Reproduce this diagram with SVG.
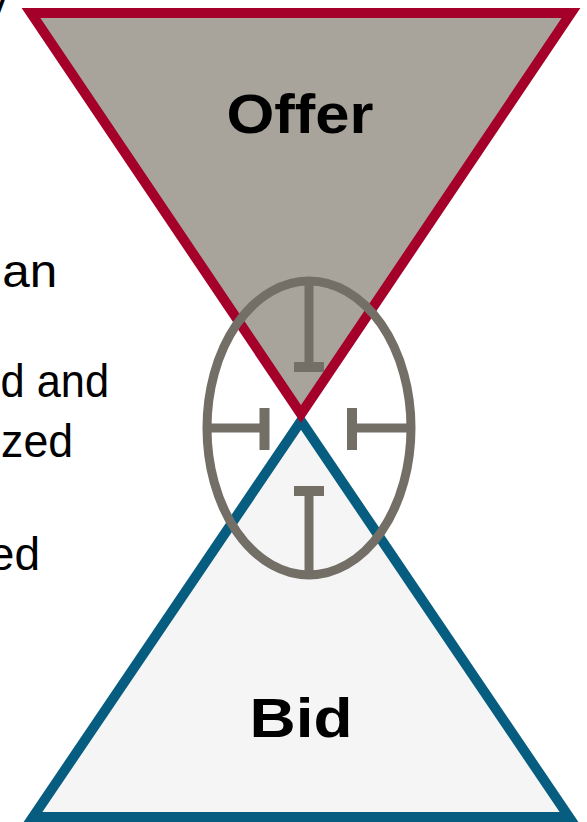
<svg xmlns="http://www.w3.org/2000/svg" width="587" height="822" viewBox="0 0 587 822">
  <style>
    .body { font-family: "Liberation Sans", Arial, sans-serif; font-size: 46px; fill: #000; }
    .label { font-family: "Liberation Sans", Arial, sans-serif; font-weight: bold; fill: #000; text-anchor: middle; }
    .gauge { stroke: #736f67; stroke-width: 9; fill: none; }
  </style>
  <rect width="587" height="822" fill="#ffffff"/>

  <!-- side text, running in from the left edge -->
  <g id="side-text" class="body">
    <text x="-14.6" y="14" font-size="47">y</text>
    <text x="2.2" y="287" textLength="55" lengthAdjust="spacingAndGlyphs">an</text>
    <text x="0.5" y="397" textLength="108.5" lengthAdjust="spacingAndGlyphs">d and</text>
    <text x="1.1" y="457" textLength="72" lengthAdjust="spacingAndGlyphs">zed</text>
    <text x="40" y="570" text-anchor="end">ed</text>
  </g>

  <!-- bid side (upright triangle) -->
  <g id="bid">
    <polygon points="301,421 33,817 569,817" fill="#f5f5f5" stroke="#075d7f" stroke-width="10" stroke-linejoin="miter"/>
    <text class="label" x="301" y="737" font-size="56" textLength="103" lengthAdjust="spacingAndGlyphs">Bid</text>
  </g>

  <!-- offer side (inverted triangle) -->
  <g id="offer">
    <polygon points="31,13 571,13 301,414" fill="#a8a49c" stroke="#a50029" stroke-width="10" stroke-linejoin="miter"/>
    <text class="label" x="300" y="133" font-size="55" textLength="147" lengthAdjust="spacingAndGlyphs">Offer</text>
  </g>

  <!-- spread gauge: ring with four inward stops -->
  <g id="spread" class="gauge">
    <ellipse cx="309" cy="428" rx="102" ry="147"/>
    <line x1="309" y1="282" x2="309" y2="367"/>
    <line x1="294" y1="367" x2="324" y2="367" stroke-width="10"/>
    <line x1="207" y1="428" x2="265" y2="428"/>
    <line x1="264.5" y1="408" x2="264.5" y2="450" stroke-width="10"/>
    <line x1="352" y1="428" x2="411" y2="428"/>
    <line x1="352" y1="408" x2="352" y2="450" stroke-width="10"/>
    <line x1="294" y1="491" x2="324" y2="491" stroke-width="10"/>
    <line x1="309" y1="491" x2="309" y2="575"/>
  </g>
</svg>
